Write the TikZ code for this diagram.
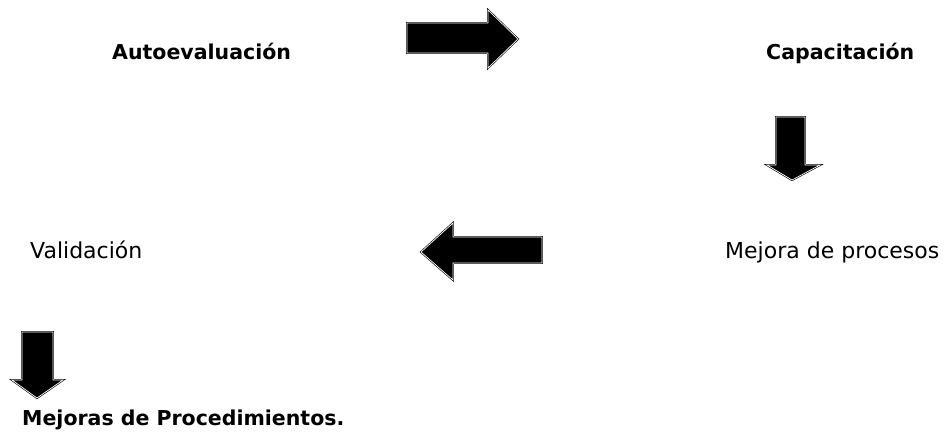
\documentclass[tikz,border=0pt]{standalone}
\usepackage{fontspec}
\setmainfont{DejaVu Sans}
\begin{document}
\begin{tikzpicture}[x=1pt,y=-1pt,
  blk/.style={fill=black,draw=black,line width=0.6pt,double=white,double distance=0.7pt,line join=miter},
  bold/.style={font=\bfseries\fontsize{20.5}{24}\selectfont,inner sep=0pt,anchor=base west},
  reg/.style={font=\fontsize{22}{26}\selectfont,inner sep=0pt,anchor=base west}]
\useasboundingbox (0,0) rectangle (949,432);
% texts
\node[bold] (auto) at (112,59) {Autoevaluación};
\node[bold] (cap) at (766,59) {Capacitación};
\node[reg] (val) at (30,258) {Validación};
\node[reg] (mej) at (725,258) {Mejora de procesos};
\node[bold] (proc) at (22,425) {Mejoras de Procedimientos.};
% arrows
\path[blk] (407,23) -- (488,23) -- (488,10) -- (518,39) -- (488,68) -- (488,53) -- (407,53) -- cycle;
\path[blk] (776,117) -- (805,117) -- (805,165) -- (820,165) -- (792,180) -- (767,165) -- (776,165) -- cycle;
\path[blk] (542,237) -- (453,237) -- (453,223) -- (421,252) -- (453,280) -- (453,263) -- (542,263) -- cycle;
\path[blk] (22,332) -- (53,332) -- (53,380) -- (63,380) -- (37,398) -- (12,380) -- (22,380) -- cycle;
\end{tikzpicture}
\end{document}
